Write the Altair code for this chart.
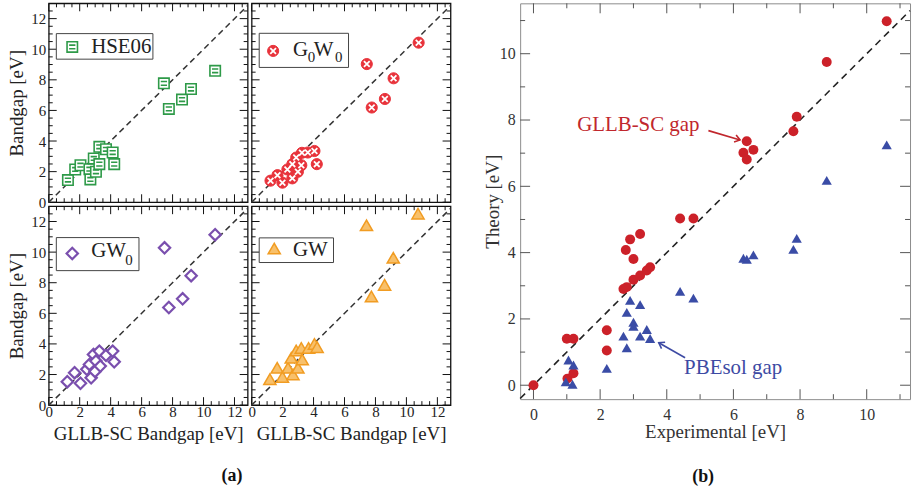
import altair as alt
import pandas as pd
import numpy as np

SERIF = "Liberation Serif"

# ---------------- Panel (a) data ----------------
SERIES_A = ["HSE06", "G0W0", "GW0", "GW"]
PANEL_ROW = [0, 0, 1, 1]
PANEL_COL = [0, 1, 0, 1]

HSE06_X = [1.24, 1.71, 2.05, 2.63, 2.69, 2.91, 3.05, 3.27, 3.27, 3.70, 4.13, 4.23, 7.44, 7.76, 8.61, 9.19, 10.75]
HSE06_Y = [1.45, 2.14, 2.42, 2.16, 1.49, 2.86, 1.99, 2.49, 3.62, 3.46, 3.25, 2.49, 7.77, 6.10, 6.71, 7.40, 8.59]

G0W0_X = [1.22, 1.67, 1.99, 2.31, 2.63, 2.63, 2.88, 2.99, 3.21, 3.25, 3.63, 4.06, 4.21, 7.44, 7.76, 8.61, 9.17, 10.79]
G0W0_Y = [1.41, 1.77, 1.28, 2.14, 1.56, 2.49, 2.92, 1.99, 2.42, 3.23, 3.25, 3.35, 2.49, 9.03, 6.19, 6.75, 8.10, 10.43]

GW0_X = [1.20, 1.67, 2.05, 2.46, 2.63, 2.74, 2.89, 2.99, 3.05, 3.27, 3.33, 3.70, 4.13, 4.23, 7.48, 7.76, 8.65, 9.20, 10.75]
GW0_Y = [1.53, 2.12, 1.43, 2.34, 2.66, 1.79, 3.31, 2.20, 2.88, 3.53, 2.55, 3.25, 3.53, 2.83, 10.28, 6.38, 6.95, 8.46, 11.14]

GW_X = [1.18, 1.65, 1.99, 2.35, 2.56, 2.67, 2.88, 2.99, 3.21, 3.27, 3.68, 4.06, 4.23, 7.42, 7.74, 8.59, 9.15, 10.75]
GW_Y = [1.69, 2.44, 1.84, 2.44, 3.09, 2.01, 3.57, 2.44, 3.74, 2.98, 3.74, 4.00, 3.79, 11.75, 7.10, 7.86, 9.63, 12.51]

SER_X = [HSE06_X, G0W0_X, GW0_X, GW_X]
SER_Y = [HSE06_Y, G0W0_Y, GW0_Y, GW_Y]

# legend annotations (data units)
LEG_MARK_X = [1.52, 1.39, 1.52, 1.46]
LEG_MARK_Y = [10.15, 9.89, 9.91, 10.23]
LEG_BOX = [(0.49, 6.73, 9.35, 11.02), (0.49, 6.26, 8.81, 11.04),
           (0.49, 5.83, 8.79, 10.95), (0.49, 5.29, 9.32, 10.93)]
LEG_TEXT = [
    [("HSE06", 2.74, 9.73, 0)],
    [("G", 2.67, 9.57, 0), ("0", 3.63, 9.14, 1), ("W", 4.02, 9.57, 0), ("0", 5.38, 9.14, 1)],
    [("GW", 2.74, 9.70, 0), ("0", 4.94, 9.16, 1)],
    [("GW", 2.67, 9.75, 0)],
]

XMAX_A = 12.85
YMAX_A = 13.0
TICKS_A = [i * 0.5 for i in range(0, 26)]
LABELS_A = [0, 2, 4, 6, 8, 10, 12]

rows = []
for si, name in enumerate(SERIES_A):
    r, c = PANEL_ROW[si], PANEL_COL[si]
    for xv, yv in zip(SER_X[si], SER_Y[si]):
        rows.append(dict(kind="pt", series=name, row=r, col=c, xv=xv, yv=yv))
    rows.append(dict(kind="pt", series=name, row=r, col=c, xv=LEG_MARK_X[si], yv=LEG_MARK_Y[si]))
    for t in TICKS_A:
        maj = int(abs(t % 2) < 1e-9)
        rows.append(dict(kind="tick", ax="x", major=maj, tv=t, row=r, col=c))
        rows.append(dict(kind="tick", ax="y", major=maj, tv=t, row=r, col=c))
    rows.append(dict(kind="diag", d0=0.0, d1=XMAX_A, row=r, col=c))
    bx0, bx1, by0, by1 = LEG_BOX[si]
    rows.append(dict(kind="box", bx0=bx0, bx1=bx1, by0=by0, by1=by1, row=r, col=c))
    for (txt, tx, ty, sub) in LEG_TEXT[si]:
        rows.append(dict(kind="lt", txt=txt, tx=tx, ty=ty, sub=sub, row=r, col=c))
df_a = pd.DataFrame(rows)

# ---------------- Panel (b) data ----------------
RED_EXP = [0.0, 1.0, 1.2, 1.02, 1.2, 2.2, 2.2, 2.7, 2.8, 2.77, 2.9, 3.0, 3.0, 3.2, 3.2, 3.4, 3.5,
           4.4, 4.8, 6.3, 6.4, 6.4, 6.6, 7.8, 7.9, 8.8, 10.6]
RED_GLLB = [0.0, 1.4, 1.4, 0.2, 0.36, 1.66, 1.05, 2.9, 2.96, 4.08, 4.4, 3.81, 3.18, 4.56, 3.31, 3.46, 3.56,
            5.03, 5.03, 7.01, 7.36, 6.81, 7.1, 7.66, 8.1, 9.75, 10.98]
BLUE_EXP = [1.05, 1.2, 0.97, 1.17, 2.2, 2.7, 2.8, 2.8, 2.9, 3.0, 3.0, 3.2, 3.2, 3.4, 3.5,
            4.4, 4.8, 6.3, 6.4, 6.6, 7.8, 7.9, 8.8, 10.6]
BLUE_PBE = [0.76, 0.61, 0.1, 0.03, 0.51, 1.48, 1.13, 2.2, 2.56, 1.9, 1.78, 2.43, 1.48, 1.68, 1.41,
            2.83, 2.63, 3.83, 3.8, 3.93, 4.1, 4.43, 6.18, 7.25]

XDOM_B = [-0.4, 11.3]
YDOM_B = [-0.42, 11.52]
W_B, H_B = 392, 398
DIAG_B = [-0.4, 11.3]
TICKS_B = list(range(0, 12))
LABELS_B = [0, 2, 4, 6, 8, 10]

ANN_TEXT = ["GLLB-SC gap", "PBEsol gap"]
ANN_X = [1.31, 4.52]
ANN_Y = [7.85, 0.53]
ARR_X0 = [5.25, 4.55]
ARR_Y0 = [7.68, 0.83]
ARR_X1 = [6.20, 3.76]
ARR_Y1 = [7.40, 1.28]
ARR_ANG = [16.5, 209.3]
ANN_COLORS = ["#c1272d", "#3d4aa3"]

df_red = pd.DataFrame({"x": RED_EXP, "y": RED_GLLB})
df_blue = pd.DataFrame({"x": BLUE_EXP, "y": BLUE_PBE})
df_ann = pd.DataFrame({"lab": ANN_TEXT, "x": ANN_X, "y": ANN_Y, "x0": ARR_X0, "y0": ARR_Y0,
                       "x1": ARR_X1, "y1": ARR_Y1, "ang": ARR_ANG})
df_diag_b = pd.DataFrame({"d0": [DIAG_B[0]], "d1": [DIAG_B[1]]})
tick_rows_b = []
for t in TICKS_B:
    tick_rows_b.append(dict(ax="x", tv=t, major=int(t % 2 == 0)))
    tick_rows_b.append(dict(ax="y", tv=t, major=int(t % 2 == 0)))
df_ticks_b = pd.DataFrame(tick_rows_b)


def tick_layers(make, X, Y, W, H, Lmaj, Lmin, color, sw):
    out = []
    for flag, L in ((1, Lmaj), (0, Lmin)):
        rx = make("x", flag).mark_rule(color=color, strokeWidth=sw)
        out.append(rx.encode(x=X("tv"), y=alt.value(H), y2=alt.value(H - L)))
        out.append(rx.encode(x=X("tv"), y=alt.value(0), y2=alt.value(L)))
        ry = make("y", flag).mark_rule(color=color, strokeWidth=sw)
        out.append(ry.encode(y=Y("tv"), x=alt.value(0), x2=alt.value(L)))
        out.append(ry.encode(y=Y("tv"), x=alt.value(W), x2=alt.value(W - L)))
    return out


# ---------------- Build panel (a) ----------------
xs_a = alt.Scale(domain=[0, XMAX_A], nice=False, zero=False)
ys_a = alt.Scale(domain=[0, YMAX_A], nice=False, zero=False)
ax_x_a = alt.Axis(values=LABELS_A, ticks=False, domain=False, grid=False, labelFlush=False,
                  labelOverlap=False, labelPadding=-3, labelFontSize=15, labelColor="#222",
                  title="GLLB-SC Bandgap [eV]", titleFontSize=19, titlePadding=6, titleColor="#222")
ax_y_a = alt.Axis(values=LABELS_A, ticks=False, domain=False, grid=False, labelFlush=False,
                  labelOverlap=False, labelPadding=1, labelFontSize=15, labelColor="#222",
                  title="Bandgap [eV]", titleFontSize=19, titlePadding=4, titleColor="#222")


def XA(f):
    return alt.X(f"{f}:Q", scale=xs_a, axis=ax_x_a)


def YA(f):
    return alt.Y(f"{f}:Q", scale=ys_a, axis=ax_y_a)


SQ_PATH = "M-1,-1H1V1H-1Z M-0.6,-0.35H0.6 M-0.6,0.35H0.6"
STYLE_A = {
    "HSE06": dict(shape=SQ_PATH, fill="#ffffff", stroke="#2e9a48", size=110, sw=1.6),
    "G0W0": dict(shape="circle", fill="#e8333b", stroke="#e8333b", size=125, sw=1.0),
    "GW0": dict(shape="diamond", fill="#ffffff", stroke="#7a4fae", size=130, sw=2.2),
    "GW": dict(shape="triangle-up", fill="#f8c06a", stroke="#f19c22", size=150, sw=1.5),
}


def make_a(ax, flag):
    return alt.Chart().transform_filter(
        f"datum.kind == 'tick' && datum.ax == '{ax}' && datum.major == {flag}"
        + (f" && datum.tv <= {XMAX_A}" if ax == "x" else "")
    )


layers_a = tick_layers(make_a, XA, YA, 200, 200, 8, 4, "#111", 1)

layers_a.append(
    alt.Chart().transform_filter("datum.kind == 'diag'")
    .mark_rule(color="#333", strokeWidth=1.5, strokeDash=[6, 4])
    .encode(x=XA("d0"), y=YA("d0"), x2="d1:Q", y2="d1:Q")
)
layers_a.append(
    alt.Chart().transform_filter("datum.kind == 'box'")
    .mark_rect(fill="white", stroke="#444", strokeWidth=1)
    .encode(x=XA("bx0"), x2="bx1:Q", y=YA("by0"), y2="by1:Q")
)
for name in SERIES_A:
    st = STYLE_A[name]
    layers_a.append(
        alt.Chart().transform_filter(f"datum.kind == 'pt' && datum.series == '{name}'")
        .mark_point(shape=st["shape"], fill=st["fill"], stroke=st["stroke"], size=st["size"],
                    strokeWidth=st["sw"], opacity=1, filled=False, fillOpacity=1)
        .encode(x=XA("xv"), y=YA("yv"))
    )
layers_a.append(
    alt.Chart().transform_filter("datum.kind == 'pt' && datum.series == 'G0W0'")
    .mark_point(shape="M-0.55,-0.55L0.55,0.55M-0.55,0.55L0.55,-0.55", stroke="white", size=110,
                strokeWidth=1.8, opacity=1, filled=False)
    .encode(x=XA("xv"), y=YA("yv"))
)
for sub, fs in ((0, 21), (1, 15)):
    layers_a.append(
        alt.Chart().transform_filter(f"datum.kind == 'lt' && datum.sub == {sub}")
        .mark_text(align="left", baseline="alphabetic", font=SERIF, fontSize=fs, color="#222")
        .encode(x=XA("tx"), y=YA("ty"), text="txt:N")
    )

chart_a = (
    alt.layer(*layers_a)
    .properties(width=200, height=200)
    .facet(
        data=df_a,
        row=alt.Row("row:O", title=None, header=alt.Header(labels=False)),
        column=alt.Column("col:O", title=None, header=alt.Header(labels=False)),
        spacing=0,
    )
    .properties(title=alt.TitleParams("(a)", orient="bottom", anchor="middle", offset=23, dx=2))
)

# ---------------- Build panel (b) ----------------
xs_b = alt.Scale(domain=XDOM_B, nice=False, zero=False)
ys_b = alt.Scale(domain=YDOM_B, nice=False, zero=False)
ax_x_b = alt.Axis(values=LABELS_B, ticks=False, domain=False, grid=False, labelFlush=False,
                  labelOverlap=False, labelPadding=7, labelFontSize=16, labelColor="#333",
                  title="Experimental [eV]", titleFontSize=19, titlePadding=1, titleColor="#333")
ax_y_b = alt.Axis(values=LABELS_B, ticks=False, domain=False, grid=False, labelFlush=False,
                  labelOverlap=False, labelPadding=5, labelFontSize=16, labelColor="#333",
                  title="Theory [eV]", titleFontSize=19, titleX=-18, titleColor="#333")


def XB(f):
    return alt.X(f"{f}:Q", scale=xs_b, axis=ax_x_b)


def YB(f):
    return alt.Y(f"{f}:Q", scale=ys_b, axis=ax_y_b)


def make_b(ax, flag):
    return alt.Chart(df_ticks_b).transform_filter(f"datum.ax == '{ax}' && datum.major == {flag}")


layers_b = tick_layers(make_b, XB, YB, W_B, H_B, 10, 5, "#555", 1)
layers_b.append(
    alt.Chart(df_diag_b).mark_rule(color="#222", strokeWidth=1.6, strokeDash=[7, 5])
    .encode(x=XB("d0"), y=YB("d0"), x2="d1:Q", y2="d1:Q")
)
layers_b.append(
    alt.Chart(df_red).mark_point(shape="circle", filled=True, color="#cc2129", size=100, opacity=1)
    .encode(x=XB("x"), y=YB("y"))
)
layers_b.append(
    alt.Chart(df_blue).mark_point(shape="triangle-up", filled=True, color="#3a4ca6", size=105, opacity=1)
    .encode(x=XB("x"), y=YB("y"))
)
ann_color = alt.Color("lab:N", scale=alt.Scale(domain=ANN_TEXT, range=ANN_COLORS), legend=None)
layers_b.append(
    alt.Chart(df_ann).mark_text(align="left", baseline="middle", font=SERIF, fontSize=21)
    .encode(x=XB("x"), y=YB("y"), text="lab:N", color=ann_color)
)
layers_b.append(
    alt.Chart(df_ann).mark_rule(strokeWidth=1.6)
    .encode(x=XB("x0"), y=YB("y0"), x2="x1:Q", y2="y1:Q", color=ann_color)
)
layers_b.append(
    alt.Chart(df_ann).mark_point(shape="M-1,-0.7L0,0L-1,0.7", filled=False, size=110, strokeWidth=1.6,
                                 opacity=1)
    .encode(x=XB("x1"), y=YB("y1"), angle=alt.Angle("ang:Q", scale=None), color=ann_color)
)

chart_b = (
    alt.layer(*layers_b)
    .properties(width=W_B, height=H_B, view=alt.ViewBackground(stroke="#8c8c8c", strokeWidth=1),
                title=alt.TitleParams("(b)", orient="bottom", anchor="middle", offset=26, dx=-12))
)

chart = (
    alt.hconcat(chart_a, chart_b, spacing=30)
    .properties(padding={"left": 8, "top": 0, "right": 2, "bottom": 2})
    .configure_axis(labelFont=SERIF, titleFont=SERIF, titleFontWeight="normal")
    .configure_title(font=SERIF, fontSize=18, fontWeight="bold", color="#111")
    .configure_view(stroke="#111", strokeWidth=1.3)
)

chart.save("out.html", embed_options={"renderer": "svg", "actions": False})
